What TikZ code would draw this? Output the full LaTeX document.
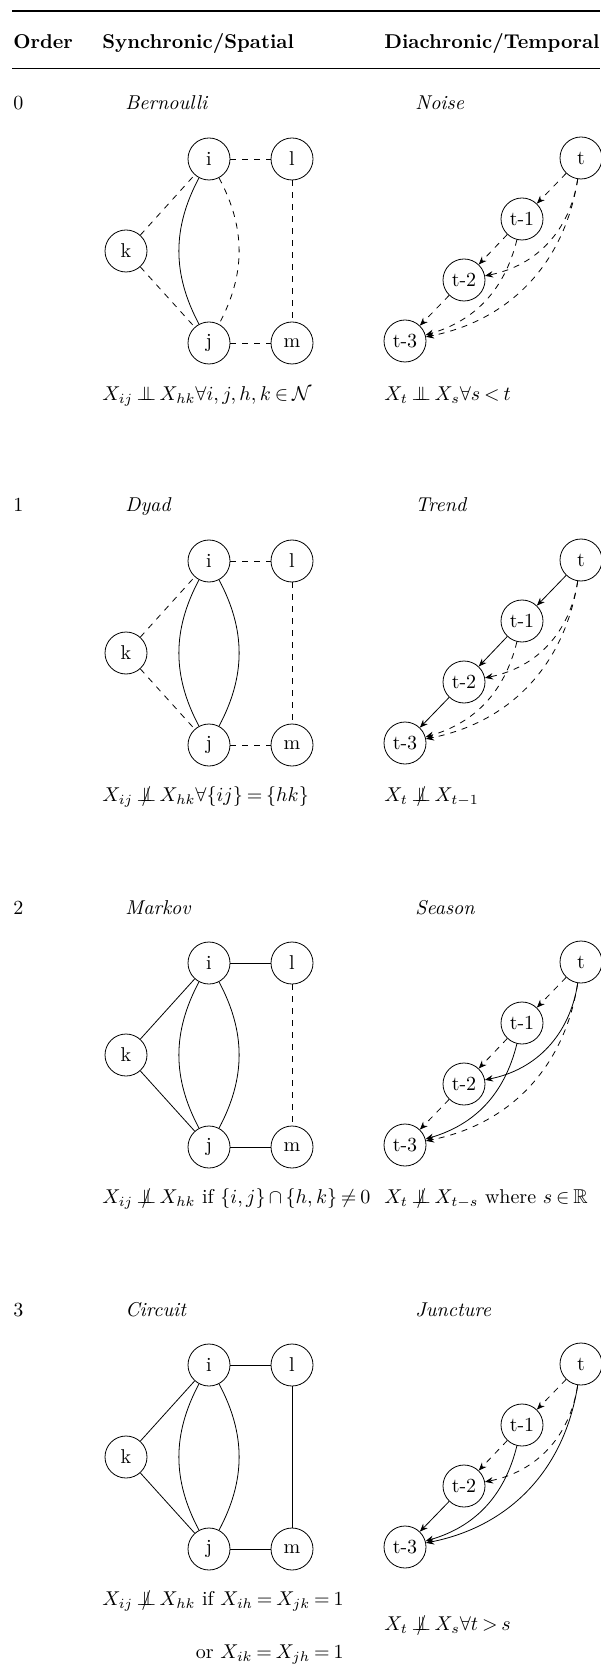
\documentclass[tikz,border=0pt]{standalone}
\usepackage{amsmath,amssymb}
\usepackage{tikz}
\usetikzlibrary{arrows.meta}

\newcommand{\indep}{\mathrel{\perp\mkern-11mu\perp}}
\newcommand{\nindep}{\mathrel{\ooalign{$\perp\mkern-11mu\perp$\cr\hidewidth$/$\hidewidth\cr}}}
\thickmuskip=3.5mu plus 2mu
\medmuskip=3mu

\begin{document}
\begin{tikzpicture}[x=0.5pt,y=-0.5pt,>={Stealth[length=4pt,width=3.2pt]},
  vtx/.style={circle,draw,minimum size=21pt,inner sep=0pt},
  lbl/.style={anchor=base west,inner sep=0pt}]
  \useasboundingbox (0,0) rectangle (600,1673);
  \draw[line width=0.8pt] (12,11) -- (600,11);
  \draw[line width=0.5pt] (12,69) -- (600,69);
  \node[lbl,font=\bfseries] (hord) at (13,49) {Order};
  \node[lbl,font=\bfseries] (hsyn) at (102,49) {Synchronic/Spatial};
  \node[lbl,font=\bfseries] (hdia) at (384,49) {Diachronic/Temporal};
  % one row per order: names, then edge styles (spatial, temporal)
  \foreach \r/\spname/\tmname/\il/\lm/\jm/\ki/\kj/\ijl/\ijr/\ta/\tb/\tc/\td/\te/\tf in {
    0/Bernoulli/Noise/dashed/dashed/dashed/dashed/dashed/solid/dashed/dashed/dashed/dashed/dashed/dashed/dashed,
    1/Dyad/Trend/dashed/dashed/dashed/dashed/dashed/solid/solid/solid/solid/solid/dashed/dashed/dashed,
    2/Markov/Season/solid/dashed/solid/solid/solid/solid/solid/dashed/dashed/dashed/solid/solid/dashed,
    3/Circuit/Juncture/solid/solid/solid/solid/solid/solid/solid/dashed/dashed/solid/dashed/solid/solid}{
    \begin{scope}[shift={(0,402*\r)}]
      \node[lbl] (ord) at (13,110) {\r};
      \node[lbl,font=\itshape] (syn) at (125,110) {\spname};
      \node[lbl,font=\itshape] (dia) at (415,110) {\tmname};
      \node[vtx] (i) at (209,159) {i};
      \node[vtx] (l) at (292,159) {l};
      \node[vtx] (k) at (126,251) {k};
      \node[vtx] (j) at (209,343) {j};
      \node[vtx] (m) at (292,343) {m};
      \draw[\il] (i) -- (l);
      \draw[\lm] (l) -- (m);
      \draw[\jm] (j) -- (m);
      \draw[\ki] (k) -- (i);
      \draw[\kj] (k) -- (j);
      \draw[\ijl] (i) to[bend right=28] (j);
      \draw[\ijr] (i) to[bend left=28] (j);
      \node[vtx] (t0) at (581,158) {t};
      \node[vtx] (t1) at (522,219) {t-1};
      \node[vtx] (t2) at (464,280) {t-2};
      \node[vtx] (t3) at (405,341) {t-3};
      \draw[->,\ta] (t0) -- (t1);
      \draw[->,\tb] (t1) -- (t2);
      \draw[->,\tc] (t2) -- (t3);
      \draw[->,\td] (t0) to[bend left=35] (t2);
      \draw[->,\te] (t1) to[bend left=30] (t3);
      \draw[->,\tf] (t0) to[bend left=35] (t3);
    \end{scope}
  }
  \node[lbl] (fs0) at (102,401) {$X_{ij} \indep X_{hk} \forall i,j,h,k \in \mathcal{N}$};
  \node[lbl] (ft0) at (384,401) {$X_t \indep X_s \forall s < t$};
  \node[lbl] (fs1) at (102,801) {$X_{ij} \nindep X_{hk} \forall \{ij\} = \{hk\}$};
  \node[lbl] (ft1) at (384,801) {$X_t \nindep X_{t-1}$};
  \node[lbl] (fs2) at (102,1203) {$X_{ij} \nindep X_{hk}$ if $\{i,j\} \cap \{h,k\} \neq 0$};
  \node[lbl] (ft2) at (384,1203) {$X_t \nindep X_{t-s}$ where $s \in \mathbb{R}$};
  \node[lbl] (fs3) at (102,1605) {$X_{ij} \nindep X_{hk}$ if $X_{ih} = X_{jk} = 1$};
  \coordinate (or3) at (0,1658);
  \node[anchor=base east,inner sep=0pt] (fs3b) at (fs3.base east |- or3) {or $X_{ik} = X_{jh} = 1$};
  \node[lbl] (ft3) at (384,1630) {$X_t \nindep X_s \forall t > s$};
\end{tikzpicture}
\end{document}
